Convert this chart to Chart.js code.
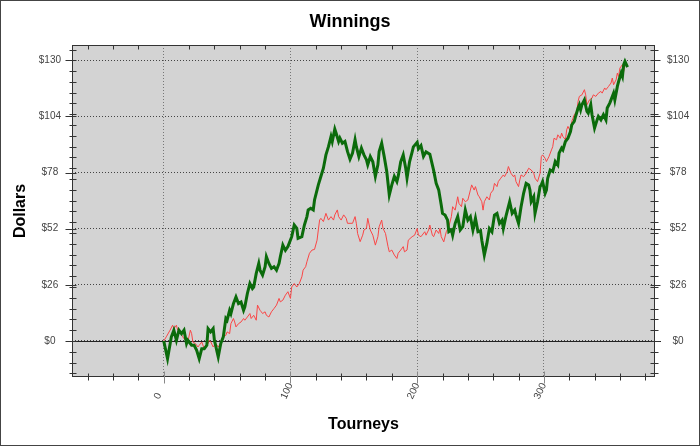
<!DOCTYPE html>
<html>
<head>
<meta charset="utf-8">
<title>Winnings</title>
<script src="https://cdn.jsdelivr.net/npm/chart.js@4.4.1/dist/chart.umd.min.js"></script>
<style>
  html, body { margin: 0; padding: 0; background: #fff; }
  #frame { width: 700px; height: 446px; box-sizing: border-box; border: 1px solid #444; }
  canvas { display: block; }
</style>
</head>
<body>
<div id="frame"><canvas id="winChart" width="698" height="444"></canvas></div>
<script>
// tourney number / running winnings
const greenT = [0, 3, 6, 8, 10, 12, 14, 16, 18, 19, 22, 24, 26, 28, 30, 32, 34, 35, 37, 39,
  40, 43, 45, 47, 49, 50, 52, 53, 55, 57, 59, 61, 63, 64, 66, 68, 70, 71, 73, 75,
  76, 78, 80, 81, 83, 85, 87, 89, 91, 92, 94, 96, 98, 101, 103, 105, 106, 109, 111, 113,
  114, 116, 118, 119, 122, 124, 126, 128, 130, 132, 133, 135, 136, 138, 139, 141, 143, 145, 147, 149,
  151, 152, 154, 156, 158, 160, 161, 163, 165, 167, 169, 170, 172, 174, 176, 178, 180, 182, 184, 185,
  187, 189, 191, 192, 194, 196, 197, 200, 201, 203, 205, 207, 210, 213, 215, 217, 219, 220, 222, 224,
  225, 227, 228, 230, 232, 234, 236, 238, 240, 242, 244, 246, 248, 250, 251, 253, 255, 257, 259, 261,
  263, 265, 267, 268, 270, 272, 273, 275, 277, 278, 280, 282, 284, 286, 288, 289, 290, 292, 293, 295,
  297, 298, 299, 301, 302, 303, 305, 307, 309, 311, 312, 314, 315, 317, 319, 321, 322, 324, 325, 327,
  328, 329, 330, 332, 334, 335, 337, 338, 340, 342, 343, 345, 347, 349, 350, 352, 353, 355, 356, 358,
  359, 361, 362, 363, 364, 366];
const greenV = [0, -8.2, 1.9, 5, 0.3, 5, 3.4, 5, -1.2, 0.3, -2, -2, -4.3, -8.2, -3.6, -3.6, -2, 5.7, 4.2, 5.7,
  0.3, -7.4, -1.2, 1.9, 10.4, 9.6, 14.2, 12.7, 17.3, 20.4, 17.3, 18, 14.2, 15.8, 22, 26.6, 24.3, 25, 31.3, 35.9,
  32.8, 30.5, 34.4, 39, 35.9, 33.6, 34.4, 32.8, 35.9, 39, 44.4, 42, 43.7, 48.3, 53.7, 52.2, 47.5, 48.3, 53.7, 57.6,
  60.7, 61.5, 60.7, 65.3, 72.3, 76.2, 80, 86.2, 90, 94.7, 92.4, 98.1, 96.3, 92.4, 94, 91.6, 92.4, 87.8, 84.2, 87,
  93.2, 90, 85.4, 89.3, 86.2, 83.9, 81.6, 85.4, 83, 76.2, 81.6, 87.8, 91.6, 85.4, 78.5, 67.6, 72.3, 76.2, 73.8, 76.2,
  83, 86.2, 79.9, 75.5, 83, 87.5, 89.9, 92, 89, 90.5, 85.5, 87.6, 86.5, 79, 73, 70, 63, 59.1, 58.3, 56,
  50.6, 51.4, 49, 54.5, 57.6, 51.4, 52.9, 60.6, 56, 57.6, 51.4, 56.8, 50.6, 51, 46.7, 39.8, 45.2, 52.1, 50.6, 58.3,
  59.1, 54.5, 56, 52.1, 57.6, 62.2, 64.5, 59.1, 60.6, 58.3, 54.5, 62.2, 68.4, 73, 72.3, 69.9, 64.5, 66.8, 59.1, 64.5,
  71.5, 72.3, 73.8, 68.4, 69.9, 75.4, 79.2, 78.5, 83.1, 81.5, 87, 89.3, 88.5, 92.4, 93.9, 97, 100.1, 101.7, 104, 107.9,
  109.4, 107.1, 109.4, 111.7, 106.3, 105.5, 109.4, 104.8, 98.6, 102.4, 104, 102.4, 104.8, 102.4, 107.9, 110.2, 111.7, 114.8, 111.7, 117.9,
  120.2, 124.1, 122.5, 128, 129.5, 126.9];

const redT = [0, 2, 5, 7, 8, 10, 11, 13, 15, 17, 19, 21, 22, 23, 25, 27, 28, 30, 32, 35,
  36, 37, 39, 41, 43, 45, 47, 49, 50, 52, 53, 55, 56, 57, 59, 61, 63, 64, 66, 68,
  69, 71, 73, 74, 76, 77, 78, 80, 81, 83, 85, 87, 89, 91, 92, 94, 96, 98, 100, 101,
  103, 105, 107, 109, 110, 112, 113, 115, 117, 119, 121, 122, 123, 124, 126, 128, 130, 132, 134, 135,
  137, 138, 140, 142, 144, 145, 147, 149, 151, 152, 153, 155, 157, 158, 160, 161, 163, 165, 167, 169,
  170, 172, 173, 175, 177, 178, 180, 182, 184, 185, 187, 189, 190, 192, 193, 196, 198, 200, 201, 203,
  206, 207, 209, 210, 212, 213, 215, 217, 218, 219, 221, 223, 225, 227, 228, 230, 232, 233, 235, 236,
  238, 240, 242, 243, 245, 246, 248, 249, 251, 252, 253, 255, 257, 258, 260, 261, 263, 264, 266, 268,
  269, 271, 272, 274, 276, 277, 278, 280, 281, 282, 284, 286, 288, 290, 292, 293, 295, 297, 298, 299,
  301, 302, 304, 306, 307, 308, 310, 311, 313, 314, 315, 317, 318, 319, 321, 322, 323, 324, 326, 327,
  328, 330, 332, 333, 334, 336, 338, 339, 341, 343, 345, 346, 348, 349, 351, 353, 354, 355, 357, 358,
  359, 360, 362, 363, 364];
const redV = [0, 1.9, 5, 7.3, 5.7, 7.3, 5, 4.2, 1.9, 0.3, -0.5, 5, 3.4, -0.5, -1.2, -2.8, -2, -0.5, -3.6, -1.2,
  0.3, -0.3, -2.8, -1.2, -2.8, -1.2, 1.9, 2.6, 4.2, 3.4, 8, 10.4, 8.8, 6.5, 8, 8.8, 10.4, 9.6, 11.1, 12.7,
  10.4, 11.9, 9.6, 16.6, 14.2, 13.5, 12.7, 13.5, 11.9, 11.1, 13.5, 15, 16.6, 19.7, 18.1, 18.9, 21.2, 22.8, 19.7, 25,
  26.6, 25, 26.6, 29.7, 32.8, 34.4, 36.7, 40.6, 42.1, 42.4, 46.7, 51.4, 56, 56.8, 55.3, 59.1, 56, 57.6, 56, 58.4,
  60.7, 57.6, 56, 58.4, 56.8, 54.5, 54.5, 54.5, 57.6, 54.5, 49.8, 46, 49, 51.4, 52.2, 56.8, 51.4, 49, 44.4, 48.3,
  52.9, 56, 52.2, 49.8, 43.7, 41.3, 42.1, 39.8, 38.2, 40.6, 42.1, 43.7, 41.3, 42.1, 46.7, 48.3, 49, 52.1, 49, 48.3,
  50.6, 49, 51.4, 53.7, 49, 48.3, 51.4, 49.8, 52.1, 48.3, 45.9, 50.6, 52.9, 57.6, 62.2, 60.6, 66.8, 63.7, 62.2, 66.1,
  64.5, 65.3, 69.9, 72.3, 69.9, 71.5, 67.6, 66.8, 64.5, 60.6, 64.5, 66.8, 65.3, 68.4, 69.9, 73, 71.5, 73.8, 75.4, 76.9,
  76.1, 78.4, 80.8, 77.7, 76.1, 76.9, 73.8, 71.5, 74.6, 76.9, 76.1, 77.7, 80, 79.2, 77.7, 75.4, 73.8, 77.7, 85.4, 86.2,
  84.6, 83.1, 85.4, 88.5, 90, 93.9, 93.2, 95.5, 93.9, 96.3, 94.7, 93.2, 97.8, 99.4, 97, 101.7, 103.2, 104.8, 106.3, 111,
  113.3, 114, 116.4, 114, 109.4, 111.7, 112.5, 114, 113.3, 114.8, 115.6, 114.8, 117.2, 116.4, 117.9, 119.5, 121.8, 118.7, 121, 124.1,
  122.5, 126.4, 128, 124.9, 128];

const yMajor = [0, 26, 52, 78, 104, 130];
const yMinor = [-15, -10, -5, 5, 10, 15, 20, 25, 30, 35, 40, 45, 50, 55, 60, 65, 70, 75, 80, 85,
  90, 95, 100, 105, 110, 115, 120, 125, 135];
const xMajor = [0, 100, 200, 300];
const xMinor = [-60, -40, -20, 20, 40, 60, 80, 120, 140, 160, 180, 220, 240, 260, 280, 320, 340, 360, 380];

const Y_MIN = -16.7, Y_MAX = 137.1;
const X_MIN = -72.4, X_MAX = 387.7;

Chart.defaults.font.family = '"Liberation Sans", Arial, sans-serif';
Chart.defaults.color = '#444';

// grey plot area + frame
const plotBack = {
  id: 'plotBack',
  beforeDraw(chart) {
    const a = chart.chartArea, ctx = chart.ctx;
    ctx.save();
    ctx.fillStyle = '#d3d3d3';
    ctx.fillRect(a.left, a.top, a.right - a.left, a.bottom - a.top);
    ctx.restore();
  },
  beforeDatasetsDraw(chart) {
    // solid line at $0
    const a = chart.chartArea, ctx = chart.ctx;
    const py = Math.round(chart.scales.y.getPixelForValue(0)) + 0.5;
    ctx.save();
    ctx.strokeStyle = '#222';
    ctx.lineWidth = 1;
    ctx.beginPath();
    ctx.moveTo(a.left - 6, py);
    ctx.lineTo(a.right + 6, py);
    ctx.stroke();
    ctx.restore();
  },
  afterDraw(chart) {
    const a = chart.chartArea, ctx = chart.ctx;
    const sx = chart.scales.x, sy = chart.scales.y;
    ctx.save();
    ctx.strokeStyle = '#333';
    ctx.lineWidth = 1;
    ctx.strokeRect(Math.round(a.left) + 0.5, Math.round(a.top) + 0.5,
      Math.round(a.right - a.left) - 1, Math.round(a.bottom - a.top) - 1);
    const L = Math.round(a.left) + 0.5, R = Math.round(a.right) - 0.5;
    const T = Math.round(a.top) + 0.5, B = Math.round(a.bottom) - 0.5;
    ctx.beginPath();
    yMinor.forEach(v => {
      const py = Math.round(sy.getPixelForValue(v)) + 0.5;
      ctx.moveTo(L - 3, py); ctx.lineTo(L + 4, py);
      ctx.moveTo(R - 4, py); ctx.lineTo(R + 4, py);
    });
    yMajor.forEach(v => {
      const py = Math.round(sy.getPixelForValue(v)) + 0.5;
      ctx.moveTo(L - 7, py); ctx.lineTo(L + 4, py);
      ctx.moveTo(R - 4, py); ctx.lineTo(R + 6, py);
    });
    xMinor.forEach(v => {
      const px = Math.round(sx.getPixelForValue(v)) + 0.5;
      ctx.moveTo(px, B - 3); ctx.lineTo(px, B + 4);
      ctx.moveTo(px, T); ctx.lineTo(px, T + 4);
    });
    ctx.stroke();
    ctx.strokeStyle = '#888';
    ctx.beginPath();
    xMajor.forEach(v => {
      const px = Math.round(sx.getPixelForValue(v)) + 0.5;
      ctx.moveTo(px, B - 5); ctx.lineTo(px, B + 7);
    });
    ctx.stroke();
    ctx.restore();
  }
};

function toPoints(ts, vs) {
  return ts.map((t, i) => ({ x: t, y: vs[i] }));
}

// rotated labels are right-aligned, pad short ones so they sit centred like the original
function xLabel(v) {
  const s = String(v);
  return s + '\u2007'.repeat(3 - s.length);
}

new Chart(document.getElementById('winChart'), {
  type: 'line',
  data: {
    datasets: [
      {
        label: 'Green',
        data: toPoints(greenT, greenV),
        borderColor: '#0b6b0b',
        borderWidth: 3,
        pointRadius: 0,
        order: 1
      },
      {
        label: 'Red',
        data: toPoints(redT, redV),
        borderColor: 'rgb(250,70,70)',
        borderWidth: 1,
        pointRadius: 0,
        order: 2
      }
    ]
  },
  options: {
    responsive: false,
    animation: false,
    layout: { padding: 0 },
    plugins: {
      legend: { display: false },
      tooltip: { enabled: false },
      title: {
        display: true,
        text: 'Winnings',
        color: '#000',
        font: { size: 18, weight: 'bold' },
        padding: { top: 10, bottom: 12.4 }
      }
    },
    scales: {
      x: {
        type: 'linear',
        position: 'bottom',
        min: X_MIN,
        max: X_MAX,
        afterBuildTicks: s => { s.ticks = xMajor.map(v => ({ value: v })); },
        afterFit: s => { s.height = 68; },
        ticks: {
          autoSkip: false,
          minRotation: 65,
          maxRotation: 65,
          padding: 4,
          font: { size: 10 },
          callback: v => xLabel(v)
        },
        grid: { color: '#777', drawTicks: false },
        border: { display: false, dash: [1, 2] },
        title: {
          display: true,
          text: 'Tourneys',
          color: '#000',
          font: { size: 16, weight: 'bold' },
          padding: { top: 0, bottom: 11 }
        }
      },
      y: {
        type: 'linear',
        position: 'left',
        min: Y_MIN,
        max: Y_MAX,
        afterBuildTicks: s => { s.ticks = yMajor.map(v => ({ value: v })); },
        afterFit: s => { s.width = 71; },
        ticks: {
          crossAlign: 'center',
          padding: 11,
          font: { size: 10 },
          callback: v => '$' + v
        },
        grid: { color: '#444', drawTicks: false },
        border: { display: false, dash: [1, 2] },
        title: {
          display: true,
          text: 'Dollars',
          color: '#000',
          font: { size: 16, weight: 'bold' },
          padding: { top: 10, bottom: 0 }
        }
      },
      y2: {
        type: 'linear',
        position: 'right',
        min: Y_MIN,
        max: Y_MAX,
        afterBuildTicks: s => { s.ticks = yMajor.map(v => ({ value: v })); },
        afterFit: s => { s.width = 44; },
        ticks: {
          crossAlign: 'center',
          padding: 12,
          font: { size: 10 },
          callback: v => '$' + v
        },
        grid: { display: false, drawTicks: false },
        border: { display: false }
      }
    }
  },
  plugins: [plotBack]
});
</script>
</body>
</html>
